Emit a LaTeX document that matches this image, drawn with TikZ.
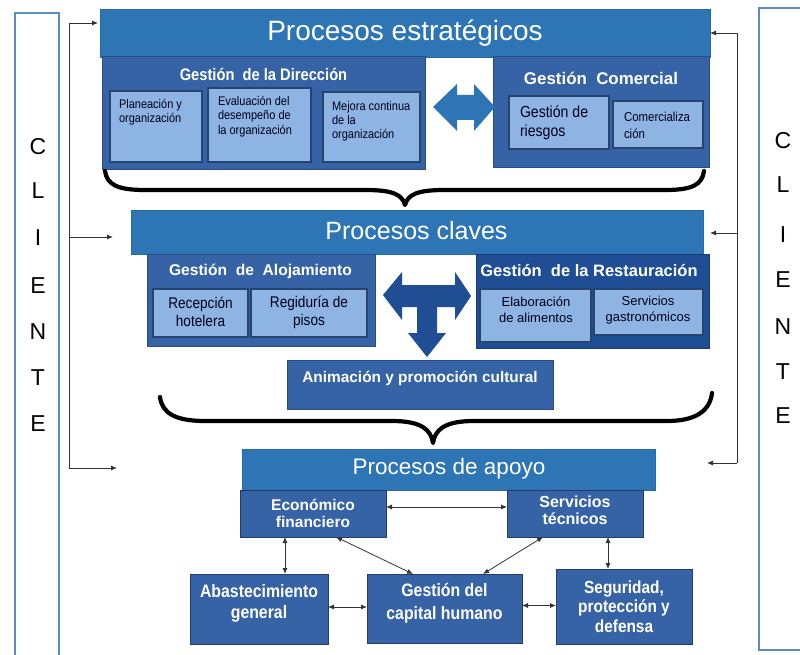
\documentclass[tikz,border=0pt]{standalone}
\usepackage{fontspec}
\setmainfont{Liberation Sans}
\newfontfamily\narrowsans[FakeStretch=0.88]{Liberation Sans}
\usetikzlibrary{arrows.meta}

\definecolor{hdr}{HTML}{2E75B6}
\definecolor{midb}{HTML}{3563A6}
\definecolor{midbd}{HTML}{2A4C82}
\definecolor{navy}{HTML}{1F4E95}
\definecolor{lite}{HTML}{8DB4E3}
\definecolor{litebd}{HTML}{27446F}
\definecolor{cli}{HTML}{5B8BC4}
\definecolor{lnk}{HTML}{333333}

% font size helper
\newcommand{\fsz}[2]{\fontsize{#1}{#2}\selectfont}
% box from its corners: name, x1, y1, x2, y2, style
\newcommand{\mkbox}[6]{%
  \node[#6, minimum width={(#4-#2)*1pt}, minimum height={(#5-#3)*1pt}]
    (#1) at ({(#2+#4)/2},{(#3+#5)/2}) {};}

\begin{document}
\begin{tikzpicture}[x=1pt,y=-1pt,
  every node/.style={inner sep=0pt, outer sep=0pt},
  clibox/.style={draw=cli, line width=1.3pt, fill=white},
  hdrbox/.style={fill=hdr, draw=hdr!90!black, line width=0.6pt},
  grpbox/.style={fill=midb, draw=midbd, line width=1pt},
  navybox/.style={fill=navy, draw=navy!80!black, line width=1pt},
  litebox/.style={fill=lite, draw=litebd, line width=1.2pt},
  supbox/.style={fill=midb, draw=midbd!80!black, line width=1pt},
  wtxt/.style={text=white, align=center},
  btxt/.style={text=black!90!blue, align=left},
  ctxt/.style={text=black!90!blue, align=center},
  clitxt/.style={text=black, font=\fsz{23}{26}},
  conn/.style={draw=lnk, line width=0.8pt},
  oneway/.style={-{Latex[length=6pt,width=5pt]}},
  twoway/.style={{Latex[length=6pt,width=5pt]}-{Latex[length=6pt,width=5pt]}},
  bracepath/.style={draw=black, line width=4.2pt, line cap=round, line join=round}]

\useasboundingbox (0,0) rectangle (800,655);
\clip (0,0) rectangle (800,655);
\fill[white] (0,0) rectangle (800,655);

% client columns
\mkbox{cliL}{15}{13}{59}{670}{clibox}
\mkbox{cliR}{759}{8}{815}{650}{clibox}
\foreach \ch/\yy in {C/147,L/191,I/238,E/286,N/332,T/378,E/424}
  \node[clitxt] (cl-\yy) at (38,\yy) {\ch};
\foreach \ch/\yy in {C/141,L/185,I/235,E/280,N/327,T/372,E/416}
  \node[clitxt] (cr-\yy) at (783,\yy) {\ch};

% feedback lines from the client
\coordinate (lTop) at (69,23);
\coordinate (lMid) at (69,237);
\coordinate (lBot) at (69,468);
\coordinate (lTopEnd) at (98,23);
\coordinate (lMidEnd) at (113,237);
\coordinate (lBotEnd) at (117,468);
\draw[conn] (lTop) -- (lBot);
\draw[conn,oneway] (lTop) -- (lTopEnd);
\draw[conn,oneway] (lMid) -- (lMidEnd);
\draw[conn,oneway] (lBot) -- (lBotEnd);
\coordinate (rTop) at (737,33);
\coordinate (rMid) at (737,233);
\coordinate (rBot) at (737,463);
\coordinate (rTopEnd) at (710,33);
\coordinate (rMidEnd) at (710,233);
\coordinate (rBotEnd) at (707,463);
\draw[conn] (rTop) -- (rBot);
\draw[conn,oneway] (rTop) -- (rTopEnd);
\draw[conn,oneway] (rMid) -- (rMidEnd);
\draw[conn,oneway] (rBot) -- (rBotEnd);

% ---- strategic processes ----
\mkbox{pe}{100}{9}{710}{57}{hdrbox}
\node[wtxt, font=\fsz{28}{32}] (pe-t) at (405,33) {Procesos estratégicos};

\mkbox{dir}{102}{57}{425}{170}{grpbox}
\node[wtxt, font=\narrowsans\bfseries\fsz{16.7}{20}] (dir-t) at (263.5,74) {Gestión\ \ de la Dirección};
\mkbox{plan}{110}{91}{202}{162}{litebox}
\node[btxt, anchor=west, font=\narrowsans\fsz{12.5}{14}] (plan-t) at (119,112) {Planeación y\\organización};
\mkbox{eval}{208}{88}{311}{162}{litebox}
\node[btxt, anchor=west, font=\narrowsans\fsz{12.5}{14.5}] (eval-t) at (218,116.5) {Evaluación del\\desempeño de\\la organización};
\mkbox{mej}{323}{92}{420}{162}{litebox}
\node[btxt, anchor=west, font=\narrowsans\fsz{12.5}{14}] (mej-t) at (332,121) {Mejora continua\\de la\\organización};

\mkbox{com}{493}{57}{709}{168}{grpbox}
\node[wtxt, font=\bfseries\fsz{16.9}{20}] (com-t) at (601,78) {Gestión\ \ Comercial};
\mkbox{ries}{509}{96}{609}{149}{litebox}
\node[btxt, anchor=west, font=\narrowsans\fsz{16}{19}] (ries-t) at (520,122.5) {Gestión de\\riesgos};
\mkbox{comz}{613}{101}{703}{148}{litebox}
\node[btxt, anchor=west, font=\narrowsans\fsz{13}{17}] (comz-t) at (624,125.5) {Comercializa\\ción};

% two-way exchange arrow
\path[fill=hdr] (433,107) -- (457,84) -- (457,95) -- (474,95) -- (474,84) -- (495,107)
  -- (474,131) -- (474,120) -- (457,120) -- (457,131) -- cycle;

% brace under strategic processes
\draw[bracepath] (105,171) .. controls (107,185) and (118,190) .. (145,190) -- (365,190)
  .. controls (392,190) and (402,194) .. (405,205)
  .. controls (408,194) and (418,190) .. (445,190) -- (665,190)
  .. controls (692,190) and (702,185) .. (704,171);

% ---- key processes ----
\mkbox{pc}{131}{210}{703}{254}{hdrbox}
\node[wtxt, font=\fsz{25}{28}] (pc-t) at (416.5,231) {Procesos claves};

\mkbox{aloj}{147}{254}{375}{346}{grpbox}
\node[wtxt, font=\bfseries\fsz{15.6}{19}] (aloj-t) at (260.5,271) {Gestión\ \ de\ \ Alojamiento};
\mkbox{rec}{153}{289}{248}{337}{litebox}
\node[ctxt, font=\narrowsans\fsz{15.5}{18}] (rec-t) at (200.5,312) {Recepción\\hotelera};
\mkbox{reg}{251}{289}{367}{337}{litebox}
\node[ctxt, font=\narrowsans\fsz{15.5}{18}] (reg-t) at (309,312) {Regiduría de\\pisos};

\mkbox{rest}{476}{254}{709}{348}{navybox}
\node[wtxt, font=\bfseries\fsz{16.5}{19}] (rest-t) at (589,271) {Gestión\ \ de la Restauración};
\mkbox{elab}{480}{289}{591}{342}{litebox}
\node[ctxt, font=\fsz{13}{16}] (elab-t) at (536,310) {Elaboración\\de alimentos};
\mkbox{gast}{594}{289}{703}{335}{litebox}
\node[ctxt, font=\fsz{13}{16}] (gast-t) at (648,310) {Servicios\\gastronómicos};

% T-shaped distribution arrow
\path[fill=navy] (383,295) -- (402,272) -- (402,285) -- (455,285) -- (455,272) -- (471,296)
  -- (455,320) -- (455,307) -- (437,307) -- (437,333) -- (446,333) -- (427,357)
  -- (408,333) -- (417,333) -- (417,307) -- (402,307) -- (402,320) -- cycle;

\mkbox{anim}{287}{360}{553}{409}{grpbox}
\node[wtxt, font=\bfseries\fsz{15.4}{18}] (anim-t) at (420,378) {Animación y promoción cultural};

% brace under key processes
\draw[bracepath] (160,397) .. controls (162,413) and (175,421) .. (205,421) -- (392,421)
  .. controls (422,421) and (431,430) .. (433,443)
  .. controls (435,430) and (444,421) .. (474,421) -- (667,421)
  .. controls (697,421) and (710,410) .. (712,393);

% ---- support processes ----
\mkbox{pa}{242}{449}{655}{490}{hdrbox}
\node[wtxt, font=\fsz{22.5}{26}] (pa-t) at (449,469) {Procesos de apoyo};

\mkbox{econ}{240}{490}{386}{537}{supbox}
\node[wtxt, font=\bfseries\fsz{15.5}{17}] (econ-t) at (313,513.5) {Económico\\financiero};
\mkbox{serv}{507}{490}{643}{537}{supbox}
\node[wtxt, font=\bfseries\fsz{16}{17}] (serv-t) at (575,510.5) {Servicios\\técnicos};
\mkbox{abast}{190}{574}{328}{644}{supbox}
\node[wtxt, font=\narrowsans\bfseries\fsz{18}{21}] (abast-t) at (259,603.5) {Abastecimiento\\general};
\mkbox{gch}{367}{574}{522}{643}{supbox}
\node[wtxt, font=\narrowsans\bfseries\fsz{18}{23}] (gch-t) at (444.5,603.5) {Gestión del\\capital humano};
\mkbox{seg}{556}{569}{692}{644}{supbox}
\node[wtxt, font=\narrowsans\bfseries\fsz{17.5}{19.5}] (seg-t) at (624,606.5) {Seguridad,\\protección y\\defensa};

% links between support areas
\draw[conn,twoway] ([yshift=6.5pt]econ.east) -- ([yshift=6.5pt]serv.west);
\draw[conn,twoway] ([xshift=-28pt]econ.south) -- ([xshift=26pt]abast.north);
\draw[conn,twoway] ([xshift=-50pt]econ.south east) -- ([xshift=-31.5pt]gch.north);
\draw[conn,twoway] ([xshift=-32pt]serv.south) -- ([xshift=38.5pt]gch.north);
\draw[conn,twoway] ([xshift=33pt]serv.south) -- ([xshift=-16pt]seg.north);
\draw[conn,twoway] ([yshift=2pt]abast.east) -- ([yshift=2pt]abast.east -| gch.west);
\draw[conn,twoway] ([yshift=3pt]gch.east) -- ([yshift=3pt]gch.east -| seg.west);

\end{tikzpicture}
\end{document}
